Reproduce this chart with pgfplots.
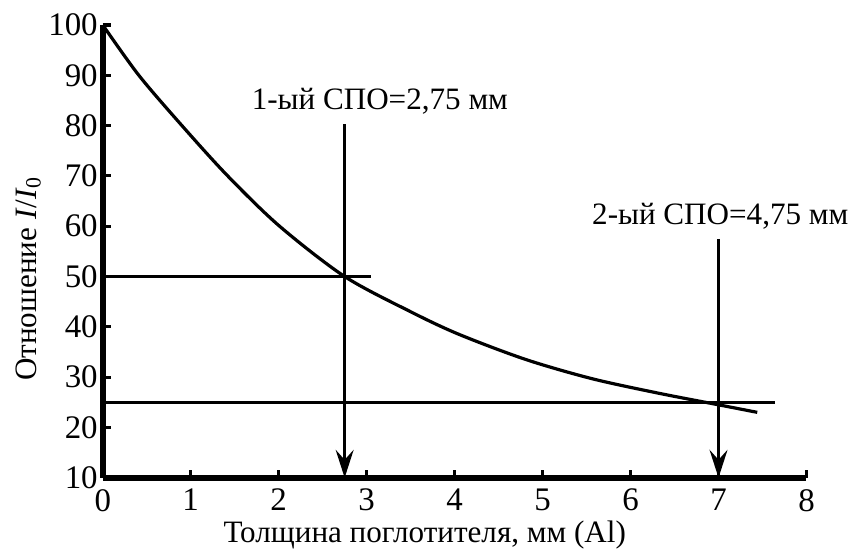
\documentclass[border=0pt]{standalone}
\usepackage{fontspec}
\setmainfont{Liberation Serif}
\usepackage{pgfplots}
\pgfplotsset{compat=1.18}
\usetikzlibrary{arrows.meta}
\begin{document}
\begin{tikzpicture}[font=\fontsize{15.6}{18}\selectfont]
\begin{axis}[
  scale only axis,
  width=352.8pt, height=227pt,
  xmin=0, xmax=8, ymin=10, ymax=100,
  axis x line=bottom, axis y line=left,
  axis line style={-, line width=2.8pt},
  xtick={0,1,...,8}, ytick={10,20,...,100},
  tick align=inside,
  major tick length=4pt,
  tick style={line width=1.6pt, black},
  tick label style={font=\fontsize{16.5}{19}\selectfont},
  /pgf/number format/assume math mode=true,
  xticklabel style={yshift=-4.5pt, inner sep=1pt},
  yticklabel style={xshift=1pt},
  xlabel={Толщина поглотителя, мм (Al)},
  xlabel style={at={(axis description cs:0.4575,-0.1425)}, anchor=base, inner sep=0pt},
  ylabel={Отношение \textit{I}/\textit{I}\textsubscript{0}},
  ylabel style={at={(axis description cs:-0.106,0.44)}, anchor=center, rotate=0},
  clip=false,
]
\path (axis cs:-1.168,-4.47) rectangle (axis cs:8.526,104.96);
\addplot[black, line width=1.6pt, smooth] coordinates {
  (0,100) (0.41,90) (0.90,80) (1.42,70) (2.01,60) (2.75,50) (3.5,43)
  (4.05,38.5) (4.81,33.5) (5.56,29.7) (6.32,26.8) (7.0,24.5) (7.44,23)
};
\addplot[black, line width=1.3pt] coordinates {(0,50) (3.05,50)};
\addplot[black, line width=1.3pt] coordinates {(0,25) (7.64,25)};
\addplot[black, line width=1.3pt, -{Stealth[length=14pt, width=9pt, inset=5pt]}] coordinates {(2.75,80.3) (2.75,10)};
\addplot[black, line width=1.3pt, -{Stealth[length=14pt, width=9pt, inset=5pt]}] coordinates {(7,57.5) (7,10)};
\node[anchor=base] at (axis cs:3.15,83.1) {1-ый СПО=2,75 мм};
\node[anchor=base] at (axis cs:7.02,60.4) {2-ый СПО=4,75 мм};
\end{axis}
\end{tikzpicture}
\end{document}
